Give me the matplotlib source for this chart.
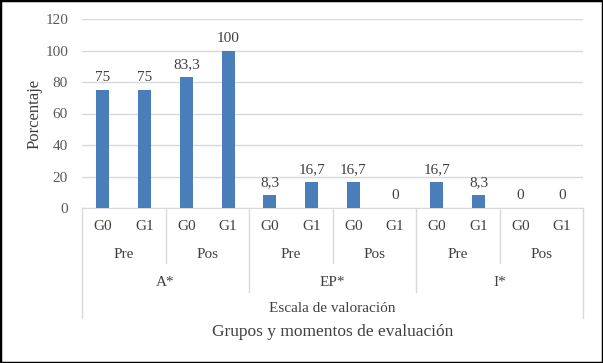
import matplotlib.pyplot as plt
from matplotlib.patches import Rectangle

plt.rcParams['font.family'] = ['Liberation Serif', 'DejaVu Serif']

groups = ["G0", "G1"] * 6
moments = ["Pre", "Pos"] * 3
scales = ["A*", "EP*", "I*"]
values = [75, 75, 83.3, 100, 8.3, 16.7, 16.7, 0, 16.7, 8.3, 0, 0]
yticks = [0, 20, 40, 60, 80, 100, 120]

BAR = "#4a7ebb"
GRID = "#d9d9d9"
W, H = 603, 363


def fy(ypix):
    # pixel row from top -> axes fraction
    return (H - ypix - 155) / 189


fig = plt.figure(figsize=(W / 100, H / 100), dpi=100)
ax = fig.add_axes([82 / W, 155 / H, 501 / W, 189 / H])

x = list(range(len(values)))
ax.bar(x, values, width=0.31, color=BAR, zorder=3)
for xi, v in zip(x, values):
    lab = f"{v:g}".replace(".", ",")
    ax.annotate(lab, (xi, v), xytext=(0, 4), textcoords="offset points",
                ha="center", va="bottom", fontsize=11, color="#404040")

ax.set_xlim(-0.5, 11.5)
ax.set_ylim(0, 120)
ax.set_yticks(yticks)
ax.set_yticklabels([str(t) for t in yticks], fontsize=11, color="#595959")
ax.tick_params(axis="y", length=0, pad=10)
ax.set_xticks([])
ax.grid(axis="y", color=GRID, linewidth=1, zorder=0)
for s in ["top", "right", "left"]:
    ax.spines[s].set_visible(False)
ax.spines["bottom"].set_color(GRID)
ax.set_ylabel("Porcentaje", fontsize=12, color="#404040", labelpad=2)

tr = ax.get_xaxis_transform()
kw = dict(transform=tr, ha="center", va="center", color="#404040", clip_on=False)
for i, g in enumerate(groups):
    ax.text(i, fy(227), g, fontsize=11, **kw)
for j, m in enumerate(moments):
    ax.text(2 * j + 0.5, fy(254), m, fontsize=11, **kw)
for k, s in enumerate(scales):
    ax.text(4 * k + 1.5, fy(282), s, fontsize=11, **kw)
ax.text(5.5, fy(308), "Escala de valoración", fontsize=11, **kw)
ax.text(5.5, fy(332), "Grupos y momentos de evaluación", fontsize=12.5, **kw)

lk = dict(transform=tr, color=GRID, linewidth=1, clip_on=False)
for xb in [-0.5, 11.5]:
    ax.plot([xb, xb], [0, fy(318)], **lk)
for xb in [1.5, 5.5, 9.5]:
    ax.plot([xb, xb], [0, fy(263)], **lk)
for xb in [3.5, 7.5]:
    ax.plot([xb, xb], [0, fy(292)], **lk)

fig.patches.append(Rectangle((0, 0), 1, 1, transform=fig.transFigure,
                             fill=False, edgecolor="black", linewidth=2.5))

fig.savefig("out.png", dpi=100)
